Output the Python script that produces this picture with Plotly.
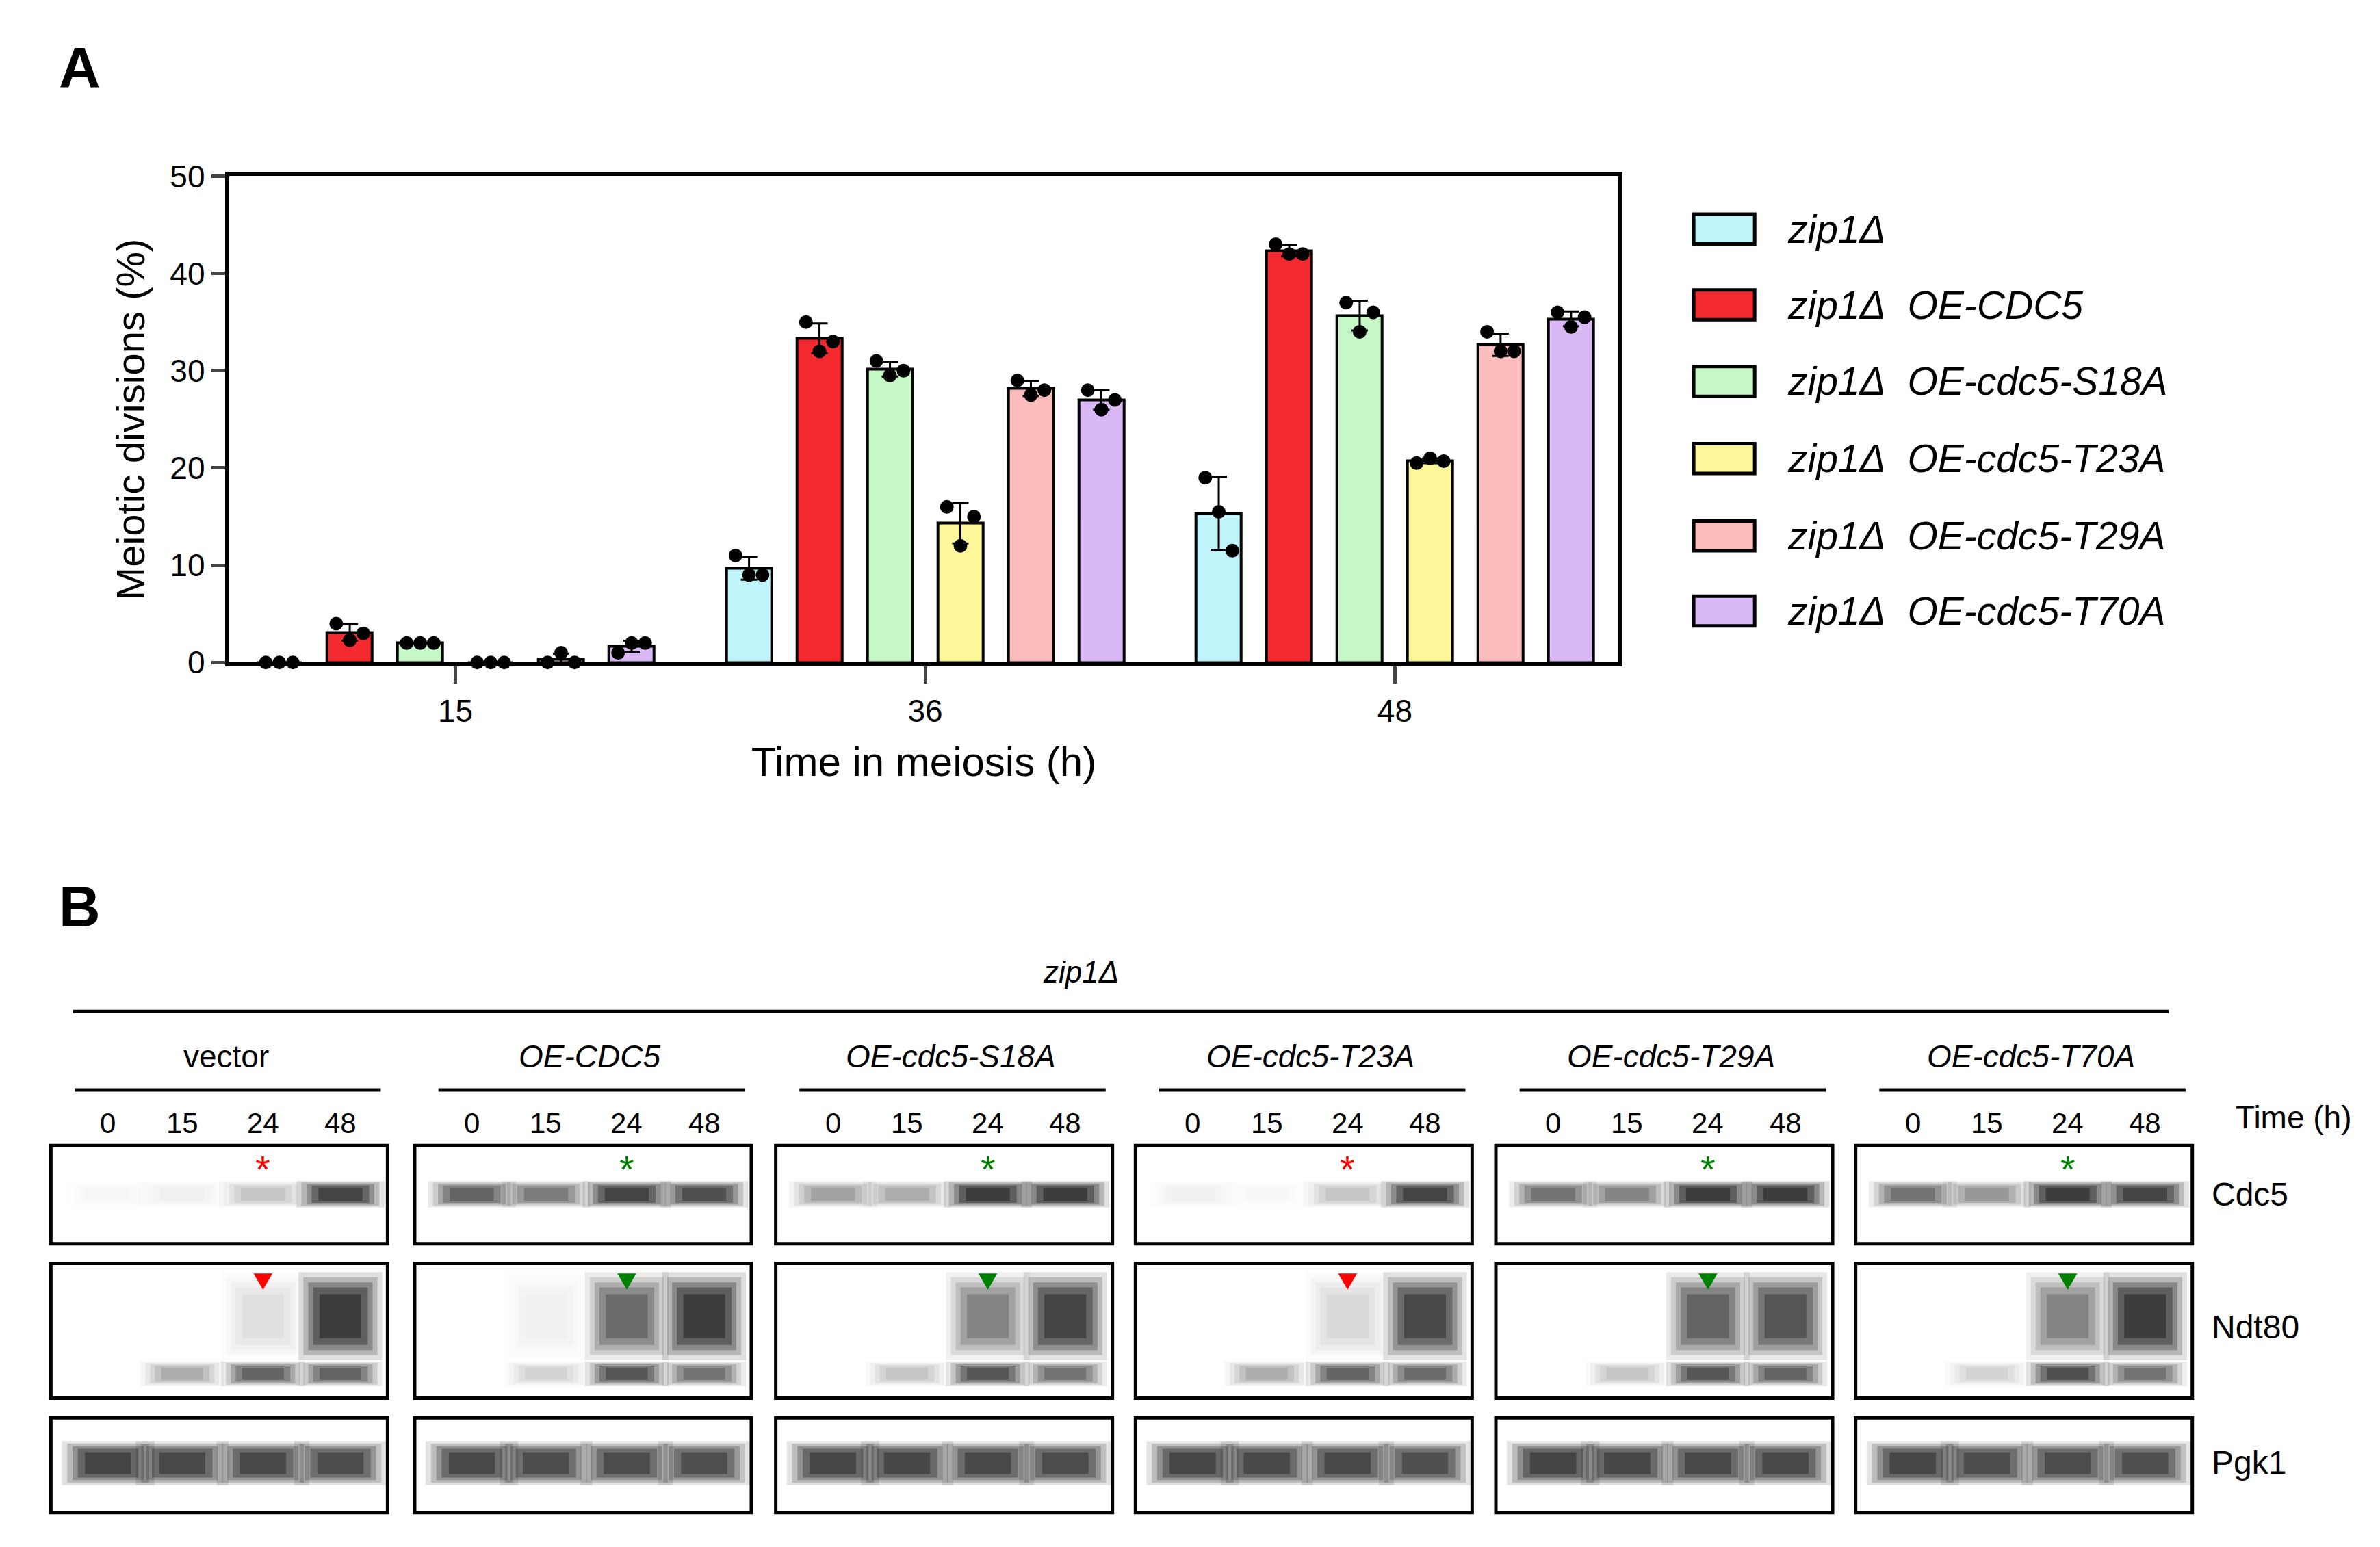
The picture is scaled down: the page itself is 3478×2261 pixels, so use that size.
import plotly.graph_objects as go
import numpy as np

W, H = 3478, 2261
S = 0.99
def px(x): return x * S / W
def py(y): return 1 - y * S / H

# ---------------- Panel A data ----------------
time_labels = ["15", "36", "48"]
series_names = ["zip1Δ", "zip1Δ  OE-CDC5", "zip1Δ  OE-cdc5-S18A", "zip1Δ  OE-cdc5-T23A",
                "zip1Δ  OE-cdc5-T29A", "zip1Δ  OE-cdc5-T70A"]
colors = ["#bff4fa", "#f42a2e", "#c6f7c6", "#fdf79a", "#fbbcbc", "#d9b8f5"]
pts_zip1 = [[0, 0, 0], [11, 9, 9], [19, 15.5, 11.5]]
pts_cdc5 = [[4, 2.3, 3], [35, 32, 33], [43, 42, 42]]
pts_s18a = [[2, 2, 2], [31, 29.5, 30], [37, 34, 36]]
pts_t23a = [[0, 0, 0], [16, 12, 15], [20.5, 21, 20.7]]
pts_t29a = [[0, 1, 0], [29, 27.5, 28], [34, 32, 32]]
pts_t70a = [[1, 2, 2], [28, 26, 27], [36, 34.5, 35.5]]
all_pts = [pts_zip1, pts_cdc5, pts_s18a, pts_t23a, pts_t29a, pts_t70a]

# ---------------- Panel B data ----------------
group_labels = ["vector", "OE-CDC5", "OE-cdc5-S18A", "OE-cdc5-T23A", "OE-cdc5-T29A", "OE-cdc5-T70A"]
lane_labels = ["0", "15", "24", "48"]
cdc5_int = [[0.03, 0.05, 0.2, 0.95], [0.7, 0.55, 0.95, 0.85], [0.35, 0.3, 1, 1],
            [0.05, 0.02, 0.2, 0.95], [0.6, 0.5, 1, 1], [0.6, 0.4, 1, 0.95]]
ndt80_up = [[0, 0, 0.1, 1], [0, 0.05, 0.65, 1], [0, 0, 0.5, 0.95],
            [0, 0, 0.12, 0.9], [0, 0, 0.7, 0.8], [0, 0, 0.5, 1]]
ndt80_low = [[0, 0.3, 0.7, 0.7], [0, 0.15, 0.8, 0.6], [0, 0.2, 0.8, 0.6],
             [0, 0.3, 0.7, 0.65], [0, 0.2, 0.8, 0.7], [0, 0.15, 0.85, 0.6]]
pgk1_int = [[0.95, 0.9, 0.9, 0.88], [0.9, 0.88, 0.88, 0.85], [0.92, 0.92, 0.9, 0.88],
            [0.92, 0.9, 0.9, 0.85], [0.95, 0.92, 0.9, 0.9], [0.92, 0.88, 0.88, 0.85]]
marker_colors = ["red", "green", "green", "red", "green", "green"]
row_labels = ["Cdc5", "Ndt80", "Pgk1"]

fig = go.Figure()
step, bw = 0.15, 0.096
for i, (name, col, pts) in enumerate(zip(series_names, colors, all_pts)):
    xs = [g + (i - 2.5) * step for g in range(3)]
    means = [float(np.mean(p)) for p in pts]
    sds = [float(np.std(p, ddof=1)) for p in pts]
    fig.add_trace(go.Bar(x=xs, y=means, width=[bw] * 3,
                         marker=dict(color=col, line=dict(color="black", width=4)),
                         error_y=dict(type="data", array=sds, visible=True, color="black", thickness=3, width=12),
                         showlegend=False))
    px_, py_ = [], []
    for g in range(3):
        for k, v in enumerate(pts[g]):
            px_.append(xs[g] + (k - 1) * bw * 0.3)
            py_.append(v)
    fig.add_trace(go.Scatter(x=px_, y=py_, mode="markers", marker=dict(color="black", size=20),
                             showlegend=False, cliponaxis=False))

fig.update_layout(
    width=W, height=H, margin=dict(l=0, r=0, t=0, b=0, autoexpand=False),
    plot_bgcolor="white", paper_bgcolor="white", bargap=0,
    font=dict(family="Liberation Sans, Arial", color="black"),
    xaxis=dict(domain=[px(330), px(2381)], range=[-0.482, 2.476], tickvals=[0, 1, 2], ticktext=time_labels,
               showline=True, linecolor="black", linewidth=6, mirror=True, ticks="outside", ticklen=25,
               tickwidth=5, tickfont=dict(size=46), showgrid=False, zeroline=False,
               title=dict(text="Time in meiosis (h)", font=dict(size=60), standoff=30)),
    yaxis=dict(domain=[py(970), py(252)], range=[0, 50], tickvals=[0, 10, 20, 30, 40, 50],
               showline=True, linecolor="black", linewidth=6, mirror=True, ticks="outside", ticklen=20,
               tickwidth=5, tickfont=dict(size=46), showgrid=False, zeroline=False,
               title=dict(text="Meiotic divisions (%)", font=dict(size=58), standoff=20)),
)

shapes, ann = [], []
def text(x, y, t, size, color="black", xanchor="center"):
    ann.append(dict(x=px(x), y=py(y), xref="paper", yref="paper", text=t, showarrow=False,
                    xanchor=xanchor, yanchor="middle", font=dict(size=size, color=color)))

# legend
leg_y = [330, 442, 555, 669, 783, 894]
for name, col, yy in zip(series_names, colors, leg_y):
    shapes.append(dict(type="rect", xref="paper", yref="paper", x0=px(2492), x1=px(2582),
                       y0=py(yy + 22), y1=py(yy - 22), fillcolor=col, line=dict(color="black", width=5)))
    text(2628, yy, "<i>" + name.replace("  ", "&nbsp;&nbsp;") + "</i>", 57, xanchor="left")

text(110, 92, "<b>A</b>", 84)
text(110, 1330, "<b>B</b>", 84)

# Panel B
text(1587, 1427, "<i>zip1Δ</i>", 44)
shapes.append(dict(type="line", xref="paper", yref="paper", x0=px(100), x1=px(3193), y0=py(1485), y1=py(1485),
                   line=dict(color="black", width=5)))
blot_x0 = [67, 604, 1137, 1668, 2200, 2731]
blot_w = 497
lane_off = [0.17, 0.39, 0.63, 0.86]
rows = [(1683, 1828), (1857, 2056), (2085, 2225)]

def band(cx, cy, w, h, inten):
    if inten <= 0:
        return
    for f, a in [(1.3, 0.12), (1.15, 0.18), (1.0, 0.25), (0.85, 0.3), (0.65, 0.35)]:
        shapes.append(dict(type="rect", xref="paper", yref="paper", x0=px(cx - w * f / 2), x1=px(cx + w * f / 2),
                           y0=py(cy + h * f / 2), y1=py(cy - h * f / 2), fillcolor=f"rgba(0,0,0,{inten * a:.3f})",
                           line=dict(width=0)))

for gi, (gl, bx) in enumerate(zip(group_labels, blot_x0)):
    cxg = bx + blot_w / 2
    shapes.append(dict(type="line", xref="paper", yref="paper", x0=px(bx + 35), x1=px(bx + blot_w - 10),
                       y0=py(1601), y1=py(1601), line=dict(color="black", width=5)))
    text(cxg + 10, 1552, gl if gi == 0 else "<i>" + gl + "</i>", 46)
    for li, lab in enumerate(lane_labels):
        cx = bx + lane_off[li] * blot_w
        text(cx, 1650, lab, 42)
        band(cx, 1755, 100, 30, cdc5_int[gi][li])
        band(cx, 1935, 95, 100, ndt80_up[gi][li])
        band(cx, 2020, 95, 28, ndt80_low[gi][li])
        band(cx, 2152, 105, 50, pgk1_int[gi][li])
    for (y0, y1) in rows:
        shapes.append(dict(type="rect", xref="paper", yref="paper", x0=px(bx), x1=px(bx + blot_w),
                           y0=py(y1), y1=py(y0), line=dict(color="black", width=5)))
    mx = bx + lane_off[2] * blot_w
    text(mx, 1718, "*", 56, color=marker_colors[gi])
    shapes.append(dict(type="path", xref="paper", yref="paper",
                       path=f"M {px(mx-14)} {py(1872)} L {px(mx+14)} {py(1872)} L {px(mx)} {py(1896)} Z",
                       fillcolor=marker_colors[gi], line=dict(width=0)))

text(3378, 1641, "Time (h)", 46)
for lab, yy in zip(row_labels, [1755, 1951, 2151]):
    text(3255, yy, lab, 48, xanchor="left")

fig.update_layout(shapes=shapes, annotations=ann)
fig.write_html("out.html")
